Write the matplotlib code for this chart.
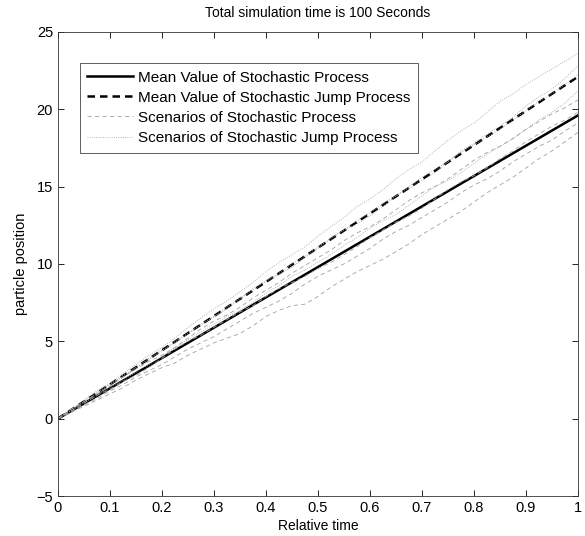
import numpy as np
import matplotlib
matplotlib.use('Agg')
import matplotlib.pyplot as plt

plt.rcParams['font.family'] = ['Liberation Sans', 'DejaVu Sans']

# relative time grid for the scenarios (41 samples)
time = np.linspace(0, 1, 41)

# mean values (straight lines)
mean_time = [0, 1]
mean_stoch = [0, 19.6]
mean_jump = [0, 22.1]

# scenarios of the stochastic process
stoch_scenarios = [
    [0, .4, .8, 1.2, 1.6, 2.0, 2.5, 2.9, 3.3, 3.6, 4.1, 4.5, 4.9, 5.2, 5.5, 6.0, 6.6, 7.0, 7.3, 7.4,
     7.9, 8.5, 9.0, 9.5, 9.9, 10.3, 10.8, 11.3, 11.9, 12.4, 12.9, 13.4, 14.0, 14.6, 15.1, 15.6, 16.2, 16.8, 17.3, 17.9, 18.5],
    [0, .5, 1.0, 1.5, 1.9, 2.4, 2.8, 3.3, 3.9, 4.5, 5.0, 5.4, 5.9, 6.4, 6.9, 7.3, 7.9, 8.4, 8.8, 9.2,
     9.7, 10.1, 10.6, 11.1, 11.7, 12.2, 12.7, 13.1, 13.6, 14.2, 14.8, 15.3, 15.7, 16.2, 16.8, 17.3, 17.9, 18.4, 18.9, 19.3, 19.8],
    [0, .6, 1.1, 1.6, 2.1, 2.7, 3.2, 3.7, 4.1, 4.6, 5.2, 5.8, 6.3, 6.7, 7.2, 7.8, 8.3, 8.8, 9.4, 9.9,
     10.4, 10.9, 11.5, 12.0, 12.4, 12.9, 13.5, 14.1, 14.6, 15.0, 15.5, 16.1, 16.7, 17.2, 17.6, 18.1, 18.7, 19.2, 19.7, 20.1, 20.6],
    [0, .45, .9, 1.3, 1.8, 2.2, 2.7, 3.1, 3.5, 4.0, 4.5, 4.9, 5.3, 5.8, 6.3, 6.8, 7.2, 7.6, 8.1, 8.7,
     9.2, 9.6, 10.0, 10.5, 11.0, 11.6, 12.1, 12.5, 13.0, 13.5, 14.0, 14.6, 15.1, 15.5, 16.0, 16.6, 17.1, 17.6, 18.0, 18.6, 19.1],
]

# scenarios of the stochastic jump process
jump_scenarios = [
    [0, .6, 1.2, 1.8, 2.3, 2.9, 3.5, 4.1, 4.6, 5.2, 5.9, 6.5, 7.1, 7.6, 8.2, 8.8, 9.5, 10.1, 10.6, 11.1,
     11.8, 12.4, 13.0, 13.7, 14.2, 14.8, 15.5, 16.1, 16.6, 17.3, 18.0, 18.6, 19.1, 19.8, 20.5, 21.0, 21.6, 22.1, 22.6, 23.1, 23.6],
    [0, .55, 1.1, 1.6, 2.2, 2.8, 3.3, 3.8, 4.4, 5.0, 5.5, 6.1, 6.6, 7.2, 7.8, 8.3, 8.9, 9.4, 10.0, 10.5,
     11.1, 11.6, 12.2, 12.8, 13.3, 13.9, 14.4, 15.0, 15.6, 16.1, 16.6, 17.3, 17.8, 18.4, 18.9, 19.5, 20.2, 20.8, 21.3, 22.0, 22.8],
    [0, .5, 1.0, 1.5, 2.0, 2.5, 3.0, 3.5, 4.0, 4.6, 5.1, 5.6, 6.1, 6.6, 7.0, 7.5, 8.1, 8.6, 9.2, 9.6,
     10.1, 10.6, 11.2, 11.7, 12.3, 12.8, 13.2, 13.8, 14.4, 15.0, 15.4, 15.9, 16.5, 17.1, 17.6, 18.1, 18.7, 19.3, 19.8, 20.4, 21.2],
    [0, .55, 1.1, 1.7, 2.2, 2.7, 3.3, 3.9, 4.4, 4.9, 5.5, 6.0, 6.6, 7.1, 7.7, 8.4, 8.9, 9.3, 9.8, 10.4,
     11.0, 11.7, 12.2, 12.6, 13.1, 13.7, 14.4, 14.9, 15.4, 15.9, 16.6, 17.2, 17.7, 18.2, 18.7, 19.3, 19.9, 20.5, 21.0, 21.6, 22.2],
]

xticks = [0, 0.1, 0.2, 0.3, 0.4, 0.5, 0.6, 0.7, 0.8, 0.9, 1]
xticklabels = ['0', '0.1', '0.2', '0.3', '0.4', '0.5', '0.6', '0.7', '0.8', '0.9', '1']
yticks = [-5, 0, 5, 10, 15, 20, 25]

fig = plt.figure(figsize=(5.85, 5.36), dpi=100)
ax = fig.add_axes([0.099, 0.0746, 0.889, 0.866])

l1, = ax.plot(mean_time, mean_stoch, color='k', lw=1.8, ls='-')
l2, = ax.plot(mean_time, mean_jump, color='k', lw=1.8, ls=(0, (3, 2)))
for s in stoch_scenarios:
    l3, = ax.plot(time, s, color='#a0a0a0', lw=0.6, ls=(0, (5, 4)))
for s in jump_scenarios:
    l4, = ax.plot(time, s, color='#a0a0a0', lw=0.6, ls=':')

ax.set_xlim(0, 1)
ax.set_ylim(-5, 25)
ax.set_xticks(xticks)
ax.set_xticklabels(xticklabels)
ax.set_yticks(yticks)
ax.tick_params(direction='in', top=True, right=True, labelsize=10.5, length=4, width=0.6)
for sp in ax.spines.values():
    sp.set_linewidth(0.6)
    sp.set_color('#333333')

ax.set_title('Total simulation time is 100 Seconds', fontsize=10, pad=11)
ax.set_xlabel('Relative time', fontsize=10, labelpad=3)
ax.set_ylabel('particle position', fontsize=10.5, labelpad=6)

leg = ax.legend([l1, l2, l3, l4],
                ['Mean Value of Stochastic Process', 'Mean Value of Stochastic Jump Process',
                 'Scenarios of Stochastic Process', 'Scenarios of Stochastic Jump Process'],
                loc='upper left', bbox_to_anchor=(0.042, 0.933), borderaxespad=0, fontsize=11,
                fancybox=False, framealpha=1, edgecolor='#444444',
                handlelength=3.0, handletextpad=0.3, labelspacing=0.4, borderpad=0.5)
leg.get_frame().set_linewidth(0.6)

fig.savefig('out.png', dpi=100)
